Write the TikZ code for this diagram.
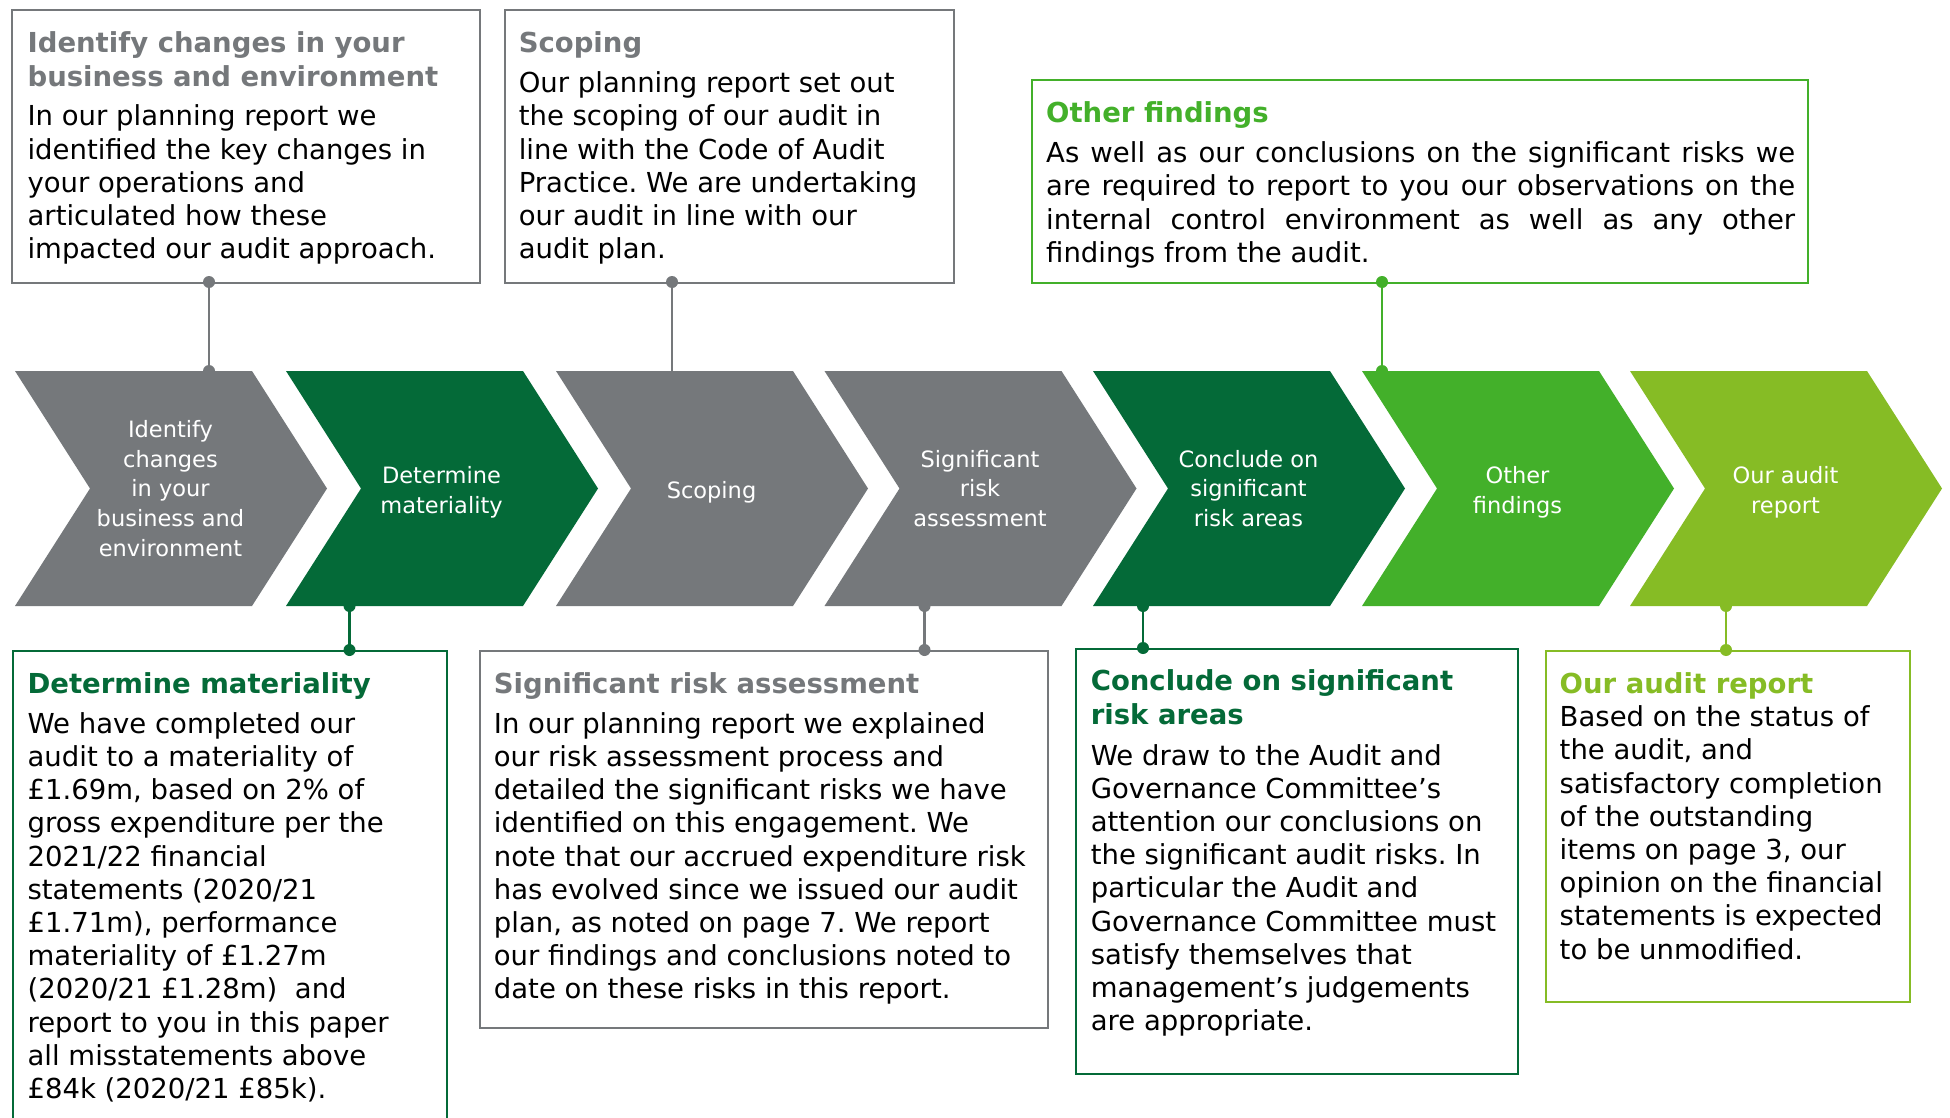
\documentclass[tikz,border=0pt]{standalone}
\usepackage{fontspec}
\setmainfont{DejaVu Sans}
\frenchspacing
\definecolor{dgray}{HTML}{75787B}
\definecolor{dgreen}{HTML}{046A38}
\definecolor{mgreen}{HTML}{43B02A}
\definecolor{lgreen}{HTML}{86BC25}
\tikzset{
  txt/.style={anchor=north west, inner sep=0pt, align=left, font=\fontsize{27.5}{33.2}\selectfont\frenchspacing, text=black},
  clabel/.style={align=center, text=white, font=\fontsize{22.5}{29.8}\selectfont, inner sep=0pt},
  frame/.style={draw=#1, line width=2.2pt, anchor=north west, inner sep=0pt, fill=white},
  link/.style={draw=#1, line width=2.5pt},
  knob/.style={fill=#1},
  chevfill/.style={fill=#1}
}
\newcommand{\chevshape}[2]{%
  \fill[chevfill=#2] (#1,371) -- ++(237,0) -- ++(75,117.5) -- ++(-75,117.5) -- ++(-237,0) -- ++(75,-117.5) -- cycle;}
\begin{document}
\begin{tikzpicture}[x=1pt,y=-1pt]
\useasboundingbox[fill=white] (0,0) rectangle (1950,1118);

% chevrons
\chevshape{15}{dgray}
\chevshape{286}{dgreen}
\chevshape{556}{dgray}
\chevshape{824.5}{dgray}
\chevshape{1093}{dgreen}
\chevshape{1362}{mgreen}
\chevshape{1630}{lgreen}

\node[clabel] (c1) at (15+155.5,488.5) {Identify\\changes\\in your\\business and\\environment};
\node[clabel] (c2) at (286+155.5,492.2) {Determine\\materiality};
\node[clabel] (c3) at (556+155.5,492.2) {Scoping};
\node[clabel] (c4) at (824.5+155.5,488.5) {Significant\\risk\\assessment};
\node[clabel] (c5) at (1093+155.5,488.5) {Conclude on\\significant\\risk areas};
\node[clabel] (c6) at (1362+155.5,492.2) {Other\\findings};
\node[clabel] (c7) at (1630+155.5,492.2) {Our audit\\report};

% boxes
\node[frame=dgray, minimum width=468pt, minimum height=273pt] (boxA) at (11,9) {};
\node[frame=dgray, minimum width=449pt, minimum height=273pt] (boxB) at (504,9) {};
\node[frame=mgreen, minimum width=776pt, minimum height=203pt] (boxC) at (1030.5,79) {};
\node[frame=dgreen, minimum width=434pt, minimum height=500pt] (boxD) at (11.5,650) {};
\node[frame=dgray, minimum width=568pt, minimum height=377pt] (boxE) at (479,650) {};
\node[frame=dgreen, minimum width=442pt, minimum height=425pt] (boxF) at (1074.5,648) {};
\node[frame=lgreen, minimum width=364pt, minimum height=351pt] (boxG) at (1544.5,650) {};

% texts
\node[txt] (tA) at (27.4,29.5) {\strut\textbf{\color{dgray}Identify changes in your}\\\textbf{\color{dgray}business and environment}\\[6.6pt]
In our planning report we\\identified the key changes in\\your operations and\\articulated how these\\impacted our audit approach.};

\node[txt] (tB) at (518.6,29.5) {\strut\textbf{\color{dgray}Scoping}\\[6.6pt]
Our planning report set out\\the scoping of our audit in\\line with the Code of Audit\\Practice. We are undertaking\\our audit in line with our\\audit plan.};

\node[txt] (tC) at (1046,99.5) {\strut\textbf{\color{mgreen}Other findings}\\[6.6pt]
\makebox[749pt][s]{As well as our conclusions on the significant risks we}\\
\makebox[749pt][s]{are required to report to you our observations on the}\\
\makebox[749pt][s]{internal control environment as well as any other}\\
findings from the audit.};

\node[txt] (tD) at (27.4,670) {\strut\textbf{\color{dgreen}Determine materiality}\\[6.6pt]
We have completed our\\audit to a materiality of\\£1.69m, based on 2\% of\\gross expenditure per the\\2021/22 financial\\statements (2020/21\\£1.71m), performance\\materiality of £1.27m\\(2020/21 £1.28m)~ and\\report to you in this paper\\all misstatements above\\£84k (2020/21 £85k).};

\node[txt] (tE) at (493.7,670) {\strut\textbf{\color{dgray}Significant risk assessment}\\[6.6pt]
In our planning report we explained\\our risk assessment process and\\detailed the significant risks we have\\identified on this engagement. We\\note that our accrued expenditure risk\\has evolved since we issued our audit\\plan, as noted on page 7. We report\\our findings and conclusions noted to\\date on these risks in this report.};

\node[txt] (tF) at (1090.6,667.5) {\strut\textbf{\color{dgreen}Conclude on significant}\\\textbf{\color{dgreen}risk areas}\\[7.8pt]
We draw to the Audit and\\Governance Committee’s\\attention our conclusions on\\the significant audit risks. In\\particular the Audit and\\Governance Committee must\\satisfy themselves that\\management’s judgements\\are appropriate.};

\node[txt] (tG) at (1559.5,670) {\strut\textbf{\color{lgreen}Our audit report}\\
Based on the status of\\the audit, and\\satisfactory completion\\of the outstanding\\items on page 3, our\\opinion on the financial\\statements is expected\\to be unmodified.};

% connectors
\coordinate (pA1) at (209,282);   \coordinate (pA2) at (209,371);
\coordinate (pB1) at (672,282);   \coordinate (pB2) at (672,371);
\coordinate (pC1) at (1382,282);  \coordinate (pC2) at (1382,371);
\coordinate (pD1) at (349.5,606); \coordinate (pD2) at (349.5,650);
\coordinate (pE1) at (924.5,606); \coordinate (pE2) at (924.5,650);
\coordinate (pF1) at (1143,606);  \coordinate (pF2) at (1143,648);
\coordinate (pG1) at (1726,606);  \coordinate (pG2) at (1726,650);

\draw[link=dgray] (pA1) -- (pA2);
\fill[knob=dgray] (pA1) circle (6) (pA2) circle (6);
\draw[link=dgray] (pB1) -- (pB2);
\fill[knob=dgray] (pB1) circle (6);
\draw[link=mgreen] (pC1) -- (pC2);
\fill[knob=mgreen] (pC1) circle (6) (pC2) circle (6);
\draw[link=dgreen] (pD1) -- (pD2);
\fill[knob=dgreen] (pD1) circle (6) (pD2) circle (6);
\draw[link=dgray] (pE1) -- (pE2);
\fill[knob=dgray] (pE1) circle (6) (pE2) circle (6);
\draw[link=dgreen] (pF1) -- (pF2);
\fill[knob=dgreen] (pF1) circle (6) (pF2) circle (6);
\draw[link=lgreen] (pG1) -- (pG2);
\fill[knob=lgreen] (pG1) circle (6) (pG2) circle (6);
\end{tikzpicture}
\end{document}
